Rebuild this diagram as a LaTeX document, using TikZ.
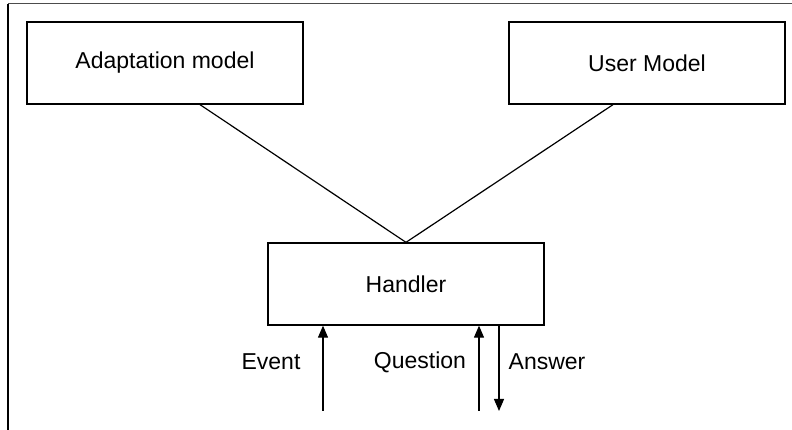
\documentclass[tikz,border=0pt]{standalone}
\usepackage{fontspec}
\setmainfont{Liberation Sans}
\usepackage{tikz}
\usetikzlibrary{arrows.meta}
\tikzset{block/.style={draw,line width=1.3pt,fill=none,
                       minimum width=276pt,minimum height=82pt,
                       inner sep=0pt,font=\fontsize{23}{27}\selectfont}}
\tikzset{caption/.style={inner sep=0pt,font=\fontsize{23}{27}\selectfont}}
\tikzset{flow/.style={line width=1.2pt,-{Triangle[length=12pt,width=10pt]}}}

\begin{document}
\begin{tikzpicture}[x=1pt,y=1pt]
    \useasboundingbox (0,0) rectangle (792,430);
    % Frame on the top and left
    \draw[line width=1pt,black!70] (8,426) -- (792,426);
    \draw[line width=1.2pt] (8,426) -- (8,0);
    % Draw the three blocks
    \node[block] (adapt) at (165,367) {Adaptation model};
    \node[block] (user) at (647,367) {User Model};
    \node[block] (handler) at (406,146) {Handler};
    % Links from the models down to the handler
    \draw[line width=1.2pt] ([xshift=35pt]adapt.south) -- (handler.north);
    \draw[line width=1.2pt] ([xshift=-34pt]user.south) -- (handler.north);
    % Loose ends of the message arrows
    \coordinate (event) at (323,19);
    \coordinate (question) at (479,19);
    \coordinate (answer) at (499,19);
    \draw[flow] (event) -- (handler.south -| event);
    \draw[flow] (question) -- (handler.south -| question);
    \draw[flow] (handler.south -| answer) -- (answer);
    % Labels
    \node[caption] (eventlabel) at (271,68) {Event};
    \node[caption] (questionlabel) at (420,68) {Question};
    \node[caption] (answerlabel) at (547,68) {Answer};
\end{tikzpicture}
\end{document}
